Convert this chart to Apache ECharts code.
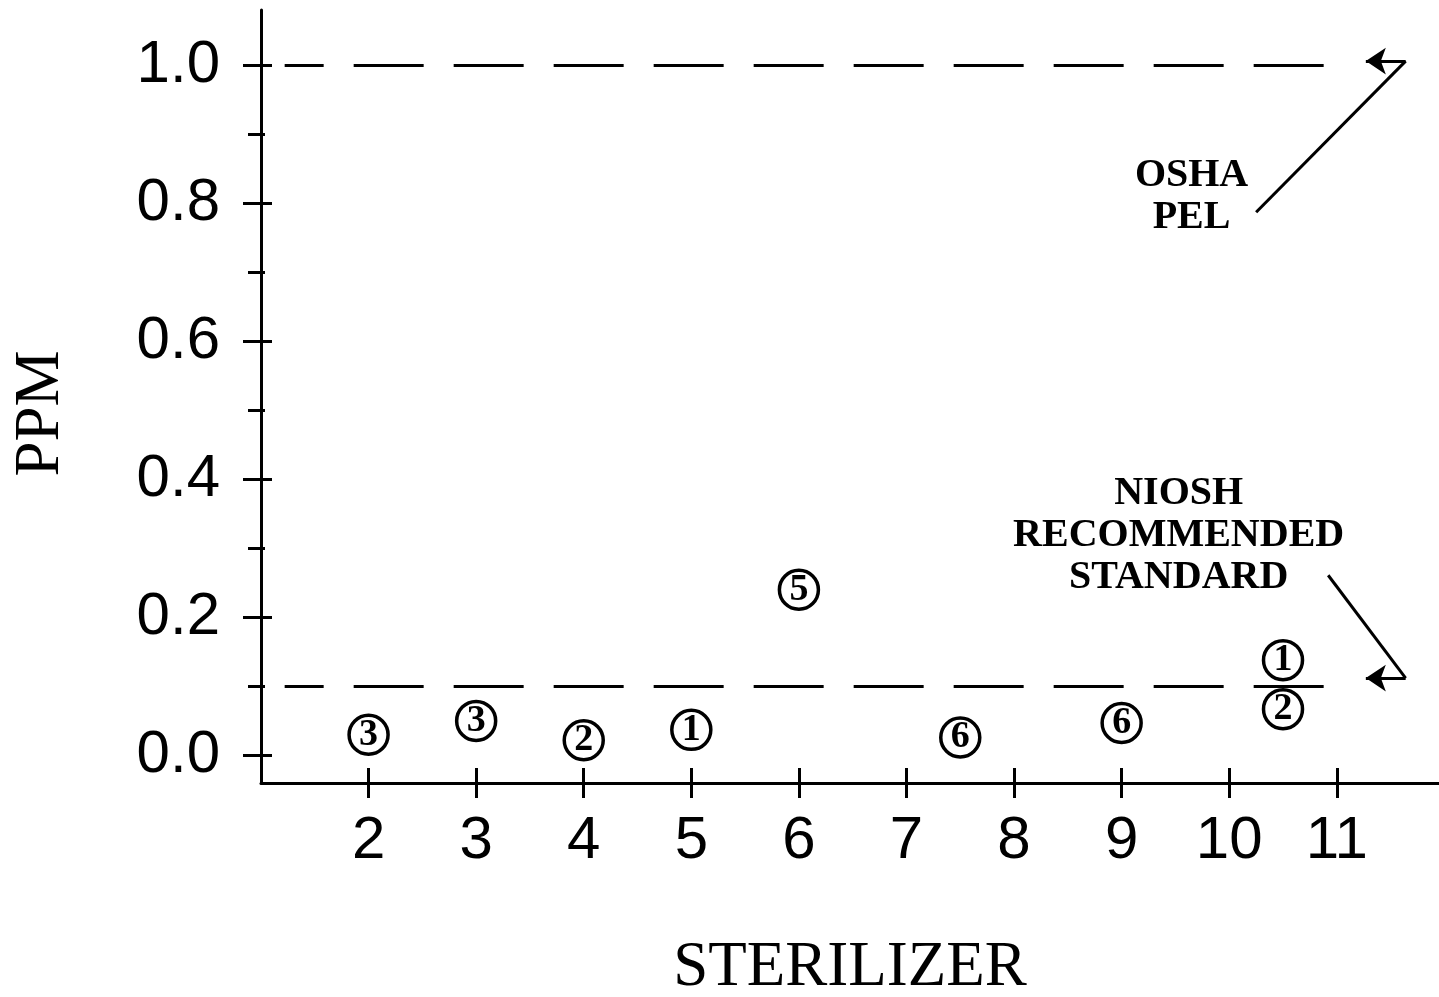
<!DOCTYPE html>
<html>
<head>
<meta charset="utf-8">
<script src="https://cdn.jsdelivr.net/npm/echarts@6/dist/echarts.min.js"></script>
<style>
html,body{margin:0;padding:0;background:#fff;}
#chart{width:1439px;height:997px;}
</style>
</head>
<body>
<div id="chart"></div>
<script>
// ---- data ----
const sterilizer = [2, 3, 4, 5, 6, 7.5, 9, 10.5, 10.5];
const ppm = [0.030, 0.050, 0.022, 0.037, 0.240, 0.026, 0.047, 0.138, 0.067];
const sampleId = ['3', '3', '2', '1', '5', '6', '6', '1', '2'];
const xTickValues = [2, 3, 4, 5, 6, 7, 8, 9, 10, 11];
const yMajorValues = [0, 0.2, 0.4, 0.6, 0.8, 1.0];
const yMinorValues = [0.1, 0.3, 0.5, 0.7, 0.9];
const oshaPel = 1.0;
const nioshRel = 0.1;
const limitLineRange = [1.22, 11.0];
const oshaLabel = 'OSHA\nPEL';
const nioshLabel = 'NIOSH\nRECOMMENDED\nSTANDARD';
const oshaLabelAt = [9.65, 0.81];
const nioshLabelAt = [9.53, 0.319];
const oshaArrow = [[10.25, 0.787], [11.64, 1.006], [11.27, 1.006]];
const nioshArrow = [[10.92, 0.261], [11.64, 0.112], [11.27, 0.112]];

const X_MIN = 1, X_MAX = 11.95, Y_MIN = -0.04, Y_MAX = 1.08;
const black = '#000';

const chart = echarts.init(document.getElementById('chart'), null, {renderer: 'canvas'});

function xAx(inside, showLine, extra) {
  return Object.assign({
    type: 'value', min: X_MIN, max: X_MAX, position: 'bottom', gridIndex: 0,
    axisLine: {show: showLine, onZero: false, lineStyle: {color: black, width: 3}},
    axisTick: {show: true, inside: inside, length: 15, customValues: xTickValues, lineStyle: {color: black, width: 3}},
    axisLabel: {show: false},
    splitLine: {show: false}
  }, extra || {});
}
function yAx(inside, len, vals, showLine, extra) {
  return Object.assign({
    type: 'value', min: Y_MIN, max: Y_MAX, position: 'left', gridIndex: 0,
    axisLine: {show: showLine, onZero: false, lineStyle: {color: black, width: 3}},
    axisTick: {show: true, inside: inside, length: len, customValues: vals, lineStyle: {color: black, width: 3}},
    axisLabel: {show: false},
    splitLine: {show: false}
  }, extra || {});
}

const option = {
  backgroundColor: '#fff',
  animation: false,
  grid: {left: 261, right: 0, top: 10, bottom: 214, containLabel: false, outerBoundsMode: 'none'},
  xAxis: [
    xAx(false, true, {
      name: 'STERILIZER', nameLocation: 'middle', nameGap: 154,
      nameTextStyle: {fontFamily: 'Liberation Serif', fontSize: 63, color: black},
      axisLabel: {show: true, customValues: xTickValues, margin: 28, color: black,
        fontFamily: 'Liberation Sans', fontSize: 60, formatter: v => String(v)}
    }),
    xAx(true, false)
  ],
  yAxis: [
    yAx(false, 18, yMajorValues, true, {
      name: 'PPM', nameLocation: 'middle', nameGap: 188,
      nameTextStyle: {fontFamily: 'Liberation Serif', fontSize: 63, color: black, padding: [0, 34, 0, 0]},
      axisLabel: {show: true, customValues: yMajorValues, margin: 41, color: black,
        fontFamily: 'Liberation Sans', fontSize: 60, formatter: v => v.toFixed(1)}
    }),
    yAx(true, 11, yMajorValues, false),
    yAx(false, 13, yMinorValues, false),
    yAx(true, 4, yMinorValues, false)
  ],
  series: [
    {
      name: 'limits', type: 'line', data: [], xAxisIndex: 0, yAxisIndex: 0,
      silent: true,
      markLine: {
        silent: true, symbol: ['none', 'none'], animation: false,
        label: {show: false},
        lineStyle: {color: black, width: 3, type: [70, 30], dashOffset: 31},
        data: [
          [{coord: [limitLineRange[0], oshaPel]}, {coord: [limitLineRange[1], oshaPel]}],
          [{coord: [limitLineRange[0], nioshRel]}, {coord: [limitLineRange[1], nioshRel]}]
        ]
      }
    },
    {
      name: 'arrows', type: 'line', data: [], xAxisIndex: 0, yAxisIndex: 0,
      silent: true,
      markLine: {
        silent: true, animation: false, label: {show: false},
        symbolSize: [0, 0],
        lineStyle: {color: black, width: 3, type: 'solid'},
        data: [
          [{coord: oshaArrow[0], symbol: 'none'}, {coord: oshaArrow[1], symbol: 'none'}],
          [{coord: oshaArrow[1], symbol: 'none'}, {coord: oshaArrow[2], symbol: 'arrow', symbolSize: 20}],
          [{coord: nioshArrow[0], symbol: 'none'}, {coord: nioshArrow[1], symbol: 'none'}],
          [{coord: nioshArrow[1], symbol: 'none'}, {coord: nioshArrow[2], symbol: 'arrow', symbolSize: 20}]
        ]
      },
      markPoint: {
        silent: true, animation: false, symbol: 'circle', symbolSize: 1,
        itemStyle: {color: 'rgba(0,0,0,0)'},
        label: {show: true, position: 'inside', color: black, fontFamily: 'Liberation Serif',
          fontWeight: 'bold', fontSize: 40, lineHeight: 42, align: 'center', verticalAlign: 'middle'},
        data: [
          {coord: oshaLabelAt, value: oshaLabel, label: {formatter: oshaLabel}},
          {coord: nioshLabelAt, value: nioshLabel, label: {formatter: nioshLabel}}
        ]
      }
    },
    {
      name: 'samples', type: 'scatter', xAxisIndex: 0, yAxisIndex: 0,
      data: sterilizer.map((x, i) => [x, ppm[i], sampleId[i]]),
      symbol: 'circle', symbolSize: 39,
      itemStyle: {color: '#fff', borderColor: black, borderWidth: 3.5, opacity: 1},
      label: {show: true, position: 'inside', formatter: p => p.value[2], color: black,
        fontFamily: 'Liberation Serif', fontWeight: 'bold', fontSize: 38},
      z: 5
    }
  ]
};
chart.setOption(option);
</script>
</body>
</html>
